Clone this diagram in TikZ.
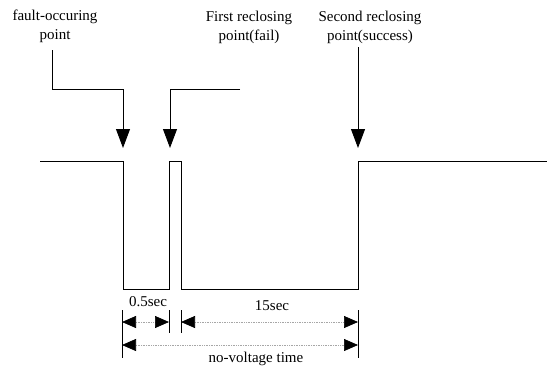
\documentclass[tikz,border=0pt]{standalone}
\usepackage{fontspec}
\setmainfont{Liberation Serif}
\usetikzlibrary{arrows.meta}
\begin{document}
\begin{tikzpicture}[x=1pt,y=-1pt,
  lbl/.style={inner sep=0pt, align=center, font=\fontsize{15}{19}\selectfont},
  dimlbl/.style={inner sep=0pt, font=\fontsize{15}{19}\selectfont},
  wave/.style={line width=1pt},
  arr/.style={line width=0.9pt, -{Triangle[length=19pt,width=14pt]}},
  dim/.style={line width=0.7pt, densely dotted, gray!70,
    {Triangle[length=14pt,width=12pt,color=black]}-{Triangle[length=14pt,width=12pt,color=black]}},
  ext/.style={line width=0.9pt}]
\useasboundingbox (0,0) rectangle (554,365);

% labels
\node[lbl, anchor=north] (fault)  at (55,10)  {fault-occuring\\point};
\node[lbl, anchor=north] (first)  at (249,10.5) {First reclosing\\point(fail)};
\node[lbl, anchor=north] (second) at (370,10.5) {Second reclosing\\point(success)};

% waveform key points
\coordinate (w0) at (40,161);
\coordinate (a) at (123,161);
\coordinate (b) at (123,289);
\coordinate (c) at (169,289);
\coordinate (d) at (169,161);
\coordinate (e) at (181,161);
\coordinate (f) at (181,289);
\coordinate (g) at (358,289);
\coordinate (h) at (358,161);
\coordinate (w1) at (547,161);
\draw[wave] (w0) -- (a) -- (b) -- (c) -- (d) -- (e) -- (f) -- (g) -- (h) -- (w1);

% pointer arrows
\coordinate (fs) at (52,50);
\coordinate (fb) at (123,89);
\coordinate (ft) at (123,148);
\draw[arr] (fs) |- (fb) -- (ft);

\coordinate (rs) at (240,89);
\coordinate (rb) at (170,89);
\coordinate (rt) at (170,148);
\draw[arr] (rs) -- (rb) -- (rt);

\coordinate (ss) at (358,47);
\coordinate (st) at (358,148);
\draw[arr] (ss) -- (st);

% extension lines
\coordinate (e1a) at (122,310); \coordinate (e1b) at (122,358);
\coordinate (e2a) at (169,310); \coordinate (e2b) at (169,333);
\coordinate (e3a) at (181,310); \coordinate (e3b) at (181,333);
\coordinate (e4a) at (358,310); \coordinate (e4b) at (358,358);
\draw[ext] (e1a) -- (e1b);
\draw[ext] (e2a) -- (e2b);
\draw[ext] (e3a) -- (e3b);
\draw[ext] (e4a) -- (e4b);

% dimension lines
\coordinate (d1l) at (122,322); \coordinate (d1r) at (169,322);
\coordinate (d2l) at (181,322); \coordinate (d2r) at (358,322);
\coordinate (d3l) at (122,345); \coordinate (d3r) at (358,345);
\draw[dim] (d1l) -- (d1r);
\draw[dim] (d2l) -- (d2r);
\draw[dim] (d3l) -- (d3r);

\node[dimlbl, anchor=base] (t05) at (148,306) {0.5sec};
\node[dimlbl, anchor=base] (t15) at (272,310) {15sec};
\node[dimlbl, anchor=base] (tnv) at (256,362) {no-voltage time};
\end{tikzpicture}
\end{document}
